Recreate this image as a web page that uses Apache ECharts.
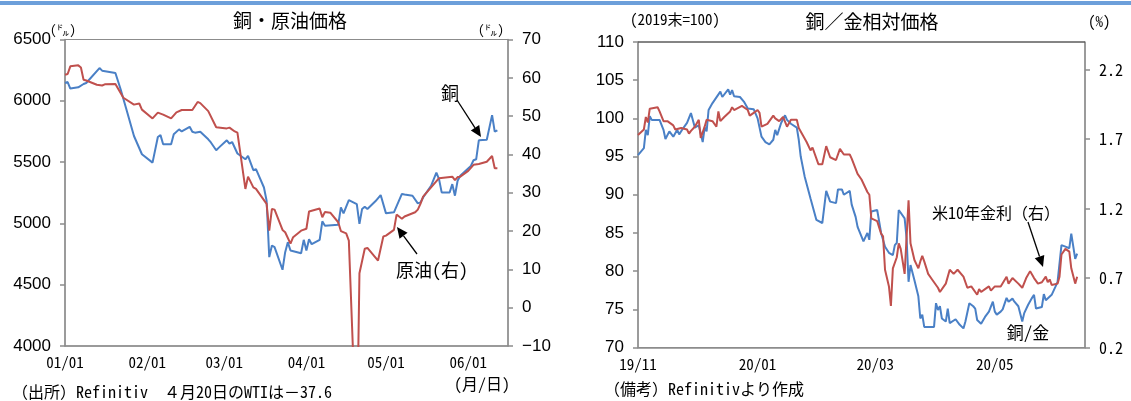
<!DOCTYPE html>
<html>
<head>
<meta charset="utf-8">
<script src="https://cdn.jsdelivr.net/npm/echarts@6/dist/echarts.min.js"></script>
<style>
  html, body { margin: 0; padding: 0; background: #fff; }
  #chart { width: 1131px; height: 401px; }
</style>
</head>
<body>
<div id="chart"></div>
<script>
// ---- Copper (LME, $/t) and WTI crude ($/bbl), 2020 ----
const copperDates = ['2020-01-01','2020-01-02','2020-01-03','2020-01-06','2020-01-08','2020-01-09','2020-01-14','2020-01-15','2020-01-20','2020-01-22','2020-01-24','2020-01-27','2020-01-30','2020-02-03','2020-02-05','2020-02-06','2020-02-07','2020-02-10','2020-02-11','2020-02-13','2020-02-14','2020-02-17','2020-02-18','2020-02-19','2020-02-21','2020-02-24','2020-02-25','2020-02-27','2020-02-28','2020-03-02','2020-03-03','2020-03-04','2020-03-06','2020-03-09','2020-03-10','2020-03-12','2020-03-13','2020-03-16','2020-03-17','2020-03-18','2020-03-19','2020-03-20','2020-03-23','2020-03-24','2020-03-25','2020-03-26','2020-03-30','2020-03-31','2020-04-01','2020-04-02','2020-04-03','2020-04-06','2020-04-07','2020-04-08','2020-04-13','2020-04-14','2020-04-15','2020-04-17','2020-04-20','2020-04-21','2020-04-22','2020-04-23','2020-04-24','2020-04-27','2020-04-29','2020-05-01','2020-05-04','2020-05-07','2020-05-08','2020-05-11','2020-05-13','2020-05-14','2020-05-15','2020-05-18','2020-05-20','2020-05-21','2020-05-22','2020-05-25','2020-05-26','2020-05-27','2020-05-28','2020-05-29','2020-06-02','2020-06-03','2020-06-04','2020-06-05','2020-06-08','2020-06-10','2020-06-11','2020-06-12'];
const copperPrices = [6145,6153,6100,6110,6137,6145,6267,6246,6227,6092,5942,5713,5564,5496,5705,5720,5645,5645,5727,5767,5750,5788,5748,5740,5748,5686,5660,5597,5618,5678,5650,5664,5570,5523,5550,5434,5442,5293,5185,4725,4820,4806,4622,4765,4847,4779,4757,4866,4779,4870,4830,4866,5017,4980,4988,5131,5082,5190,5158,4996,5118,5136,5118,5180,5231,5082,5090,5240,5235,5226,5163,5171,5212,5307,5415,5361,5253,5253,5320,5226,5348,5388,5469,5515,5523,5678,5683,5883,5748,5759];

const oilDates = ['2020-01-01','2020-01-02','2020-01-03','2020-01-06','2020-01-07','2020-01-08','2020-01-09','2020-01-13','2020-01-15','2020-01-16','2020-01-20','2020-01-23','2020-01-27','2020-01-29','2020-01-30','2020-02-03','2020-02-05','2020-02-07','2020-02-10','2020-02-12','2020-02-14','2020-02-18','2020-02-20','2020-02-21','2020-02-24','2020-02-27','2020-03-02','2020-03-03','2020-03-05','2020-03-06','2020-03-09','2020-03-10','2020-03-12','2020-03-13','2020-03-17','2020-03-18','2020-03-19','2020-03-20','2020-03-23','2020-03-24','2020-03-26','2020-03-27','2020-03-30','2020-04-01','2020-04-02','2020-04-06','2020-04-07','2020-04-08','2020-04-10','2020-04-13','2020-04-14','2020-04-16','2020-04-17','2020-04-20','2020-04-21','2020-04-23','2020-04-24','2020-04-28','2020-04-30','2020-05-01','2020-05-04','2020-05-05','2020-05-07','2020-05-08','2020-05-12','2020-05-13','2020-05-14','2020-05-15','2020-05-18','2020-05-21','2020-05-26','2020-05-27','2020-05-28','2020-05-29','2020-06-01','2020-06-03','2020-06-05','2020-06-08','2020-06-10','2020-06-11','2020-06-12'];
const oilPrices = [60.8,61.0,63.0,63.25,62.7,59.5,59.3,58.2,58.0,58.3,58.4,54.8,53.0,53.3,51.7,49.4,50.9,50.4,49.4,51.0,51.6,51.6,53.7,53.4,51.3,47.1,46.8,47.0,46.0,45.7,31.0,34.2,31.4,31.0,27.1,20.1,25.8,25.6,20.3,19.7,16.7,18.4,20.1,20.6,25.1,25.9,23.6,25.0,24.8,22.3,20.0,19.4,17.5,-37.6,9.0,15.4,15.6,12.3,18.6,18.8,20.3,24.3,23.2,23.8,24.9,25.6,27.1,29.0,31.4,33.8,34.2,33.3,34.1,34.2,35.7,37.3,37.5,38.1,39.6,36.4,36.4];

// ---- Copper/gold relative price (end-2019 = 100) and US 10y yield (%) ----
const ratioDates = ['2019-11-01','2019-11-04','2019-11-05','2019-11-06','2019-11-07','2019-11-08','2019-11-12','2019-11-14','2019-11-15','2019-11-17','2019-11-19','2019-11-21','2019-11-22','2019-11-24','2019-11-26','2019-11-28','2019-11-30','2019-12-02','2019-12-04','2019-12-05','2019-12-06','2019-12-07','2019-12-09','2019-12-13','2019-12-14','2019-12-17','2019-12-18','2019-12-19','2019-12-20','2019-12-23','2019-12-25','2019-12-26','2019-12-27','2019-12-30','2020-01-01','2020-01-02','2020-01-03','2020-01-05','2020-01-07','2020-01-09','2020-01-10','2020-01-11','2020-01-13','2020-01-15','2020-01-16','2020-01-18','2020-01-21','2020-01-22','2020-01-23','2020-01-25','2020-01-28','2020-01-29','2020-01-31','2020-02-03','2020-02-05','2020-02-06','2020-02-07','2020-02-10','2020-02-11','2020-02-13','2020-02-14','2020-02-17','2020-02-18','2020-02-20','2020-02-21','2020-02-24','2020-02-26','2020-02-27','2020-02-28','2020-03-02','2020-03-03','2020-03-04','2020-03-06','2020-03-08','2020-03-10','2020-03-11','2020-03-12','2020-03-13','2020-03-16','2020-03-17','2020-03-18','2020-03-19','2020-03-21','2020-03-23','2020-03-24','2020-03-25','2020-03-26','2020-03-29','2020-03-31','2020-04-01','2020-04-02','2020-04-03','2020-04-04','2020-04-06','2020-04-07','2020-04-08','2020-04-11','2020-04-13','2020-04-15','2020-04-16','2020-04-18','2020-04-20','2020-04-21','2020-04-22','2020-04-24','2020-04-26','2020-04-28','2020-04-30','2020-05-01','2020-05-02','2020-05-04','2020-05-05','2020-05-07','2020-05-08','2020-05-10','2020-05-11','2020-05-13','2020-05-15','2020-05-16','2020-05-18','2020-05-20','2020-05-21','2020-05-22','2020-05-25','2020-05-26','2020-05-27','2020-05-30','2020-06-01','2020-06-02','2020-06-04','2020-06-06','2020-06-08','2020-06-09','2020-06-11','2020-06-12'];
const copperGold = [95.2,96.1,98.5,97.8,100.3,99.8,99.8,98.5,97.3,98.3,97.6,98.5,97.9,98.7,99.4,100.7,98.8,99.1,96.9,98.8,98.3,101.1,102.0,103.5,102.8,103.8,103.1,103.7,102.9,102.8,102.2,102.1,101.3,101.2,100.0,99.8,97.6,96.9,96.6,97.2,98.5,97.8,99.4,100.4,99.8,99.3,98.8,97.2,95.0,92.4,89.5,89.3,86.7,86.3,90.5,90.5,89.1,88.9,90.7,90.7,90.0,90.5,88.7,87.1,85.8,83.9,85.0,84.1,87.8,88.0,88.1,85.0,83.2,82.4,82.1,83.4,83.7,88.0,86.9,84.3,78.6,80.8,78.8,76.7,73.8,74.3,72.7,72.7,72.7,75.8,74.9,75.4,73.8,73.4,75.1,73.2,73.7,73.0,72.5,73.4,75.8,75.4,75.1,73.6,73.1,74.0,74.7,76.0,74.7,74.3,74.7,75.0,76.5,76.0,76.4,76.0,75.4,73.4,74.5,75.6,76.5,76.9,75.1,75.3,77.0,76.2,76.9,78.0,78.6,83.4,83.2,83.0,84.9,81.6,82.3];

const yieldDates = ['2019-11-01','2019-11-04','2019-11-05','2019-11-06','2019-11-07','2019-11-08','2019-11-11','2019-11-12','2019-11-14','2019-11-16','2019-11-19','2019-11-20','2019-11-21','2019-11-23','2019-11-26','2019-11-27','2019-11-28','2019-11-30','2019-12-02','2019-12-03','2019-12-05','2019-12-06','2019-12-09','2019-12-11','2019-12-12','2019-12-13','2019-12-15','2019-12-18','2019-12-19','2019-12-20','2019-12-24','2019-12-27','2019-12-28','2019-12-30','2020-01-01','2020-01-02','2020-01-03','2020-01-06','2020-01-09','2020-01-10','2020-01-12','2020-01-14','2020-01-16','2020-01-18','2020-01-21','2020-01-22','2020-01-23','2020-01-26','2020-01-28','2020-01-29','2020-02-01','2020-02-03','2020-02-05','2020-02-06','2020-02-07','2020-02-10','2020-02-12','2020-02-14','2020-02-17','2020-02-18','2020-02-19','2020-02-21','2020-02-23','2020-02-26','2020-02-27','2020-02-28','2020-03-02','2020-03-04','2020-03-05','2020-03-06','2020-03-08','2020-03-09','2020-03-10','2020-03-12','2020-03-13','2020-03-14','2020-03-16','2020-03-18','2020-03-19','2020-03-21','2020-03-23','2020-03-24','2020-03-25','2020-03-26','2020-03-28','2020-03-30','2020-03-31','2020-04-02','2020-04-03','2020-04-05','2020-04-06','2020-04-08','2020-04-10','2020-04-12','2020-04-13','2020-04-15','2020-04-17','2020-04-19','2020-04-20','2020-04-22','2020-04-23','2020-04-24','2020-04-26','2020-04-28','2020-04-29','2020-05-01','2020-05-04','2020-05-07','2020-05-08','2020-05-10','2020-05-13','2020-05-15','2020-05-17','2020-05-19','2020-05-21','2020-05-23','2020-05-25','2020-05-27','2020-05-28','2020-05-29','2020-05-30','2020-06-02','2020-06-03','2020-06-04','2020-06-06','2020-06-08','2020-06-09','2020-06-11','2020-06-12'];
const us10yYield = [1.73,1.77,1.86,1.82,1.92,1.93,1.93,1.90,1.83,1.83,1.80,1.77,1.78,1.78,1.77,1.74,1.76,1.79,1.84,1.71,1.79,1.84,1.83,1.79,1.90,1.83,1.86,1.90,1.93,1.91,1.94,1.91,1.87,1.89,1.91,1.89,1.79,1.81,1.87,1.85,1.83,1.86,1.79,1.84,1.84,1.78,1.77,1.68,1.62,1.64,1.52,1.52,1.65,1.64,1.57,1.55,1.63,1.59,1.59,1.56,1.57,1.45,1.41,1.32,1.30,1.13,1.11,1.02,1.00,0.76,0.64,0.50,0.77,0.85,0.95,0.91,0.73,1.26,0.95,0.83,0.77,0.82,0.86,0.82,0.73,0.69,0.70,0.63,0.60,0.64,0.66,0.76,0.73,0.76,0.76,0.71,0.63,0.64,0.63,0.58,0.62,0.60,0.62,0.64,0.61,0.64,0.64,0.71,0.66,0.70,0.66,0.63,0.70,0.75,0.70,0.66,0.67,0.71,0.67,0.69,0.65,0.66,0.71,0.87,0.91,0.89,0.77,0.66,0.71];

// ---- Axis ticks ----
const leftMonthTicks = ['2020-01-01','2020-02-01','2020-03-01','2020-04-01','2020-05-01','2020-06-01'];
const rightMonthTicks = ['2019-11-01','2020-01-01','2020-03-01','2020-05-01'];
const yieldTicks = [0.2, 0.7, 1.2, 1.7, 2.2];

// ---- helpers ----
const ts = s => { const [y, m, d] = s.split('-').map(Number); return new Date(y, m - 1, d).getTime(); };
const zip = (dates, vals) => dates.map((d, i) => [ts(d), vals[i]]);
const pad = n => String(n).padStart(2, '0');

const BLUE = '#4a80c6';
const RED = '#c0504d';
const AXIS = '#8c8c8c';
const NUM_FONT = '"Liberation Sans", Arial, sans-serif';
const JP_FONT = '"Noto Sans Mono CJK JP", "Noto Sans CJK JP", monospace';

function valueAxis(extra) {
  return Object.assign({
    type: 'value',
    axisLine: { show: true, lineStyle: { color: AXIS, width: 1.5 } },
    axisTick: { show: true, length: 5, inside: false, lineStyle: { color: AXIS, width: 1.5 } },
    splitLine: { show: false },
    axisLabel: { color: '#000', fontSize: 17, fontFamily: NUM_FONT, margin: 14,
      formatter: v => String(v) }
  }, extra);
}

// Date axis drawn on a numeric scale of timestamps, labelled at month starts
function dateAxis(gridIndex, min, max, ticks, fmt) {
  return {
    type: 'value', gridIndex,
    min: ts(min), max: ts(max),
    axisLine: { show: true, onZero: false, lineStyle: { color: AXIS, width: 1.5 } },
    axisTick: { show: false },
    splitLine: { show: false },
    axisLabel: {
      customValues: ticks.map(ts),
      formatter: fmt,
      color: '#000', fontSize: 15, fontFamily: JP_FONT, margin: 9,
      hideOverlap: false, showMinLabel: true, showMaxLabel: true
    }
  };
}

function txt(x, y, text, size, align, font) {
  return {
    type: 'text', x, y, z: 50,
    style: {
      text, fill: '#000', fontSize: size, fontFamily: font || JP_FONT,
      align: align || 'center', verticalAlign: 'middle',
      textAlign: align || 'center', textVerticalAlign: 'middle'
    }
  };
}

function arrow(x1, y1, x2, y2) {
  const dx = x2 - x1, dy = y2 - y1, len = Math.hypot(dx, dy);
  const ux = dx / len, uy = dy / len, hl = 11, hw = 5;
  const bx = x2 - ux * hl, by = y2 - uy * hl;
  return [
    { type: 'line', z: 50, shape: { x1, y1, x2: bx, y2: by }, style: { stroke: '#000', lineWidth: 1.3 } },
    { type: 'polygon', z: 50, shape: { points: [[x2, y2], [bx - uy * hw, by + ux * hw], [bx + uy * hw, by - ux * hw]] }, style: { fill: '#000' } }
  ];
}

const chart = echarts.init(document.getElementById('chart'), null, { renderer: 'canvas' });

const option = {
  animation: false,
  backgroundColor: '#fff',
  grid: [
    { left: 65, top: 39.5, width: 443, height: 306.5, show: true, borderColor: AXIS, borderWidth: 1, backgroundColor: 'transparent' },
    { left: 638, top: 42, width: 447, height: 305.5, show: true, borderColor: AXIS, borderWidth: 1, backgroundColor: 'transparent' }
  ],
  xAxis: [
    dateAxis(0, '2020-01-01', '2020-06-16', leftMonthTicks,
      v => { const d = new Date(v); return pad(d.getMonth() + 1) + '/' + pad(d.getDate()); }),
    dateAxis(1, '2019-11-01', '2020-06-16', rightMonthTicks,
      v => { const d = new Date(v); return pad(d.getFullYear() % 100) + '/' + pad(d.getMonth() + 1); })
  ],
  yAxis: [
    valueAxis({ gridIndex: 0, min: 4000, max: 6500, interval: 500 }),
    valueAxis({ gridIndex: 0, position: 'right', min: -10, max: 70, interval: 10,
      axisLabel: { color: '#000', fontSize: 17, fontFamily: NUM_FONT, margin: 14,
        formatter: v => v < 0 ? '\u2212' + Math.abs(v) : String(v) } }),
    valueAxis({ gridIndex: 1, min: 70, max: 110, interval: 5 }),
    valueAxis({ gridIndex: 1, position: 'right', min: 0.2, max: 2.4,
      axisTick: { show: true, length: 5, customValues: yieldTicks, lineStyle: { color: AXIS, width: 1.5 } },
      axisLabel: { color: '#000', fontSize: 16, fontFamily: JP_FONT, margin: 14,
        customValues: yieldTicks, formatter: v => Number(v).toFixed(1) } })
  ],
  series: [
    { name: '銅', type: 'line', xAxisIndex: 0, yAxisIndex: 0, data: zip(copperDates, copperPrices),
      symbol: 'none', lineStyle: { color: BLUE, width: 2 }, itemStyle: { color: BLUE }, clip: true },
    { name: '原油(右)', type: 'line', xAxisIndex: 0, yAxisIndex: 1, data: zip(oilDates, oilPrices),
      symbol: 'none', lineStyle: { color: RED, width: 2 }, itemStyle: { color: RED }, clip: true },
    { name: '銅/金', type: 'line', xAxisIndex: 1, yAxisIndex: 2, data: zip(ratioDates, copperGold),
      symbol: 'none', lineStyle: { color: BLUE, width: 2 }, itemStyle: { color: BLUE }, clip: true },
    { name: '米10年金利（右）', type: 'line', xAxisIndex: 1, yAxisIndex: 3, data: zip(yieldDates, us10yYield),
      symbol: 'none', lineStyle: { color: RED, width: 2 }, itemStyle: { color: RED }, clip: true }
  ],
  graphic: [
    // header band
    { type: 'rect', z: 40, shape: { x: 0, y: 1, width: 1131, height: 4 }, style: { fill: '#6c9fda' } },
    // darker top edge of the right plot frame
    { type: 'line', z: 40, shape: { x1: 638, y1: 42, x2: 1085, y2: 42 }, style: { stroke: '#444', lineWidth: 1 } },
    // titles and units
    txt(290, 21, '銅・原油価格', 19),
    txt(872, 22, '銅／金相対価格', 19),
    txt(63, 30, '(㌦)', 13),
    txt(491, 30, '(㌦)', 13),
    txt(630, 19, '(2019末=100)', 15, 'left'),
    txt(1088, 21, '(%)', 15, 'left'),
    // annotations
    txt(450, 93, '銅', 18),
    ...arrow(457, 100, 481, 137),
    txt(432, 270, '原油(右)', 18),
    ...arrow(417, 254, 397, 227),
    txt(996, 213, '米10年金利（右）', 16),
    ...arrow(1028, 222, 1043, 267),
    txt(1028, 333, '銅/金', 17),
    // notes
    txt(482, 384, '(月/日)', 16),
    txt(12, 392, '（出所）Refinitiv　４月20日のWTIは－37.6', 16, 'left'),
    txt(604, 389, '（備考）Refinitivより作成', 16, 'left')
  ]
};

chart.setOption(option);
</script>
</body>
</html>
